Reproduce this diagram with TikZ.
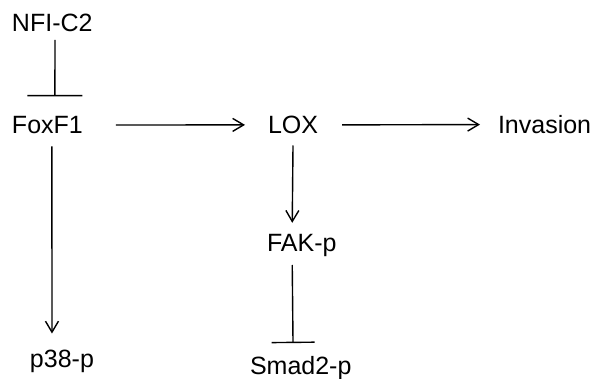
\documentclass[tikz,border=0pt]{standalone}
\usepackage{fontspec}
\setmainfont{Liberation Sans}
\usetikzlibrary{arrows.meta}
\begin{document}
\begin{tikzpicture}[x=1pt,y=-1pt,
  lbl/.style={anchor=base west,inner sep=0pt,outer sep=0pt,font=\fontsize{25}{30}\selectfont},
  act/.style={line width=1.4pt,-{Straight Barb[length=11pt,width=13pt]}},
  inh/.style={line width=1.4pt,-{Bar[width=#1]}},
]
\useasboundingbox[fill=white] (0,0) rectangle (595,379);
\node[lbl] (nfi) at (12,32) {NFI-C2};
\node[lbl] (fox) at (12,133.5) {FoxF1};
\node[lbl] (lox) at (268,133.5) {LOX};
\node[lbl] (inv) at (498,133.5) {Invasion};
\node[lbl] (fak) at (267,252) {FAK-p};
\node[lbl] (p38) at (30,368) {p38-p};
\node[lbl] (smad) at (250,375) {Smad2-p};
% connectors
\draw[inh=55pt] ([xshift=2.7pt,yshift=-8pt]nfi.base) -- ([xshift=7.5pt,yshift=20pt]fox.north);
\draw[act] ([xshift=4.5pt,yshift=-13pt]fox.base) -- ([xshift=-10pt,yshift=17pt]p38.north);
\draw[act] ([xshift=33pt]fox.east) -- ([xshift=-23pt]lox.west);
\draw[act] ([xshift=24pt]lox.east) -- ([xshift=-18pt]inv.west);
\draw[act] ([yshift=-12pt]lox.base) -- ([xshift=-9.5pt,yshift=12pt]fak.north);
\draw[inh=43pt] ([xshift=-9.5pt,yshift=-13pt]fak.base) -- ([xshift=-7.7pt,yshift=13.8pt]smad.north);
\end{tikzpicture}
\end{document}
